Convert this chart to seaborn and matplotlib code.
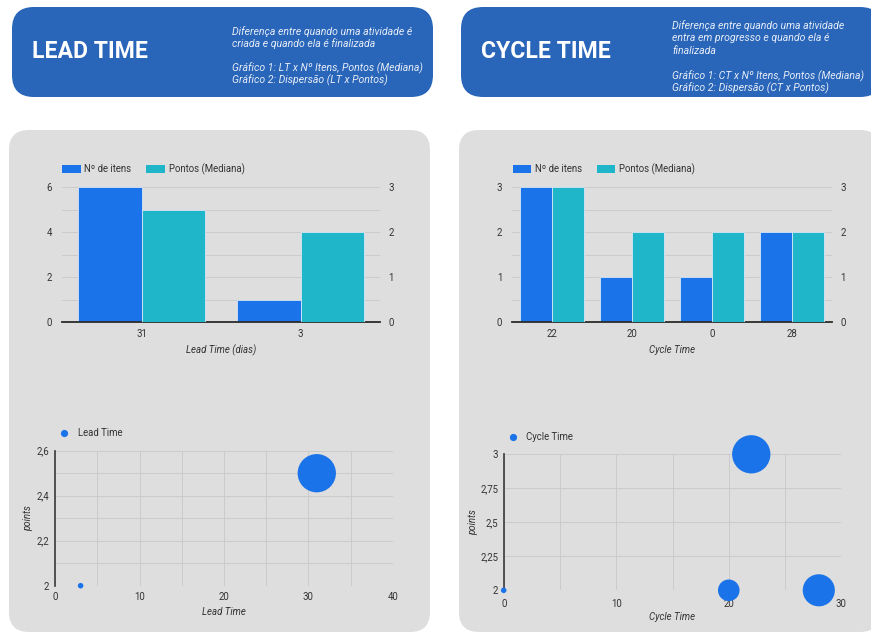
import numpy as np
import pandas as pd
import matplotlib
matplotlib.use("Agg")
import matplotlib.pyplot as plt
from matplotlib.patches import FancyBboxPatch, Patch
from matplotlib.lines import Line2D
from matplotlib.ticker import MultipleLocator, FuncFormatter
import seaborn as sns

# ---------------- data ----------------
# Lead Time — items and median points per lead time (days)
lt_categorias = ["31", "3"]
lt_itens = [6, 1]
lt_pontos_mediana = [2.5, 2]

# Cycle Time — items and median points per cycle time
ct_categorias = ["22", "20", "0", "28"]
ct_itens = [3, 1, 1, 2]
ct_pontos_mediana = [3, 2, 2, 2]

# Dispersion: time x points, bubble weight
lt_tempo = [31, 3]
lt_pontos = [2.5, 2]
lt_bolha = [186, 3]

ct_tempo = [22, 20, 0, 28]
ct_pontos = [3, 2, 2, 2]
ct_bolha = [66, 20, 0, 46]

SERIES = ["Nº de itens", "Pontos (Mediana)"]

# ---------------- style ----------------
sns.set_theme(style="white")
plt.rcParams["font.family"] = ["Roboto", "DejaVu Sans"]

AZUL = "#1a73e8"
TURQUESA = "#1fb6c9"
CAIXA = "#2965b9"
PAINEL = "#dedede"
GRADE = "#cbcbcb"
TEXTO = "#333333"
FS = 6.9

W, H = 871, 632
fig = plt.figure(figsize=(W / 100, H / 100), dpi=100)
fig.patch.set_facecolor("white")

# background layer in pixel coordinates
bg = fig.add_axes([0, 0, 1, 1])
bg.set_xlim(0, W)
bg.set_ylim(H, 0)
bg.axis("off")
PX = bg.transData


def rect(x0, y0, x1, y1):
    return [x0 / W, 1 - y1 / H, (x1 - x0) / W, (y1 - y0) / H]


def caixa(x, y, w, h, cor, r):
    bg.add_patch(FancyBboxPatch((x, y), w, h,
                                boxstyle=f"round,pad=0,rounding_size={r}",
                                fc=cor, ec="none"))


# panels
caixa(9, 130, 421, 502, PAINEL, 20)
caixa(459, 130, 421, 502, PAINEL, 20)

# headers
caixa(12, 7, 421, 90, CAIXA, 22)
caixa(461, 7, 421, 90, CAIXA, 22)

bg.text(32, 58, "LEAD TIME", color="white", fontsize=16.6, fontweight="bold",
        va="baseline", ha="left")
bg.text(481, 58, "CYCLE TIME", color="white", fontsize=16.6, fontweight="bold",
        va="baseline", ha="left")

sub_lt = ["Diferença entre quando uma atividade é",
          "criada e quando ela é finalizada",
          "",
          "Gráfico 1: LT x Nº Itens, Pontos (Mediana)",
          "Gráfico 2: Dispersão (LT x Pontos)"]
sub_ct = ["Diferença entre quando uma atividade",
          "entra em progresso e quando ela é",
          "finalizada",
          "",
          "Gráfico 1: CT x Nº Itens, Pontos (Mediana)",
          "Gráfico 2: Dispersão (CT x Pontos)"]
for i, s in enumerate(sub_lt):
    bg.text(232, 31.5 + i * 12.3, s, color="#e6edf8", fontsize=7.6,
            style="italic", va="center", ha="left")
for i, s in enumerate(sub_ct):
    bg.text(672, 25.5 + i * 12.6, s, color="#e6edf8", fontsize=7.6,
            style="italic", va="center", ha="left")


def virgula(v, p):
    return f"{v:g}".replace(".", ",")


# ---------------- bar charts ----------------
def barras(caixa_px, cats, itens, mediana, ymax_l, passo_l, ymax_r, xlabel,
           leg_xy, xlab_xy):
    ax = fig.add_axes(rect(*caixa_px))
    ax.set_facecolor("none")
    n = len(cats)
    df = pd.DataFrame({
        "cat": cats * 2,
        "serie": [SERIES[0]] * n + [SERIES[1]] * n,
        "valor": list(itens) + list(mediana),
    })
    pal = {SERIES[0]: AZUL, SERIES[1]: TURQUESA}
    kw = dict(data=df, x="cat", y="valor", hue="serie", hue_order=SERIES,
              order=cats, palette=pal, width=0.8, legend=False,
              edgecolor="#d6e6f7", linewidth=0.6, saturation=1)
    # left scale: item count; right scale: median points
    sns.barplot(ax=ax, **kw)
    ax2 = ax.twinx()
    sns.barplot(ax=ax2, **kw)
    for p in ax.containers[1]:
        p.set_visible(False)
    for p in ax2.containers[0]:
        p.set_visible(False)

    ax.set_ylim(0, ymax_l)
    ax2.set_ylim(0, ymax_r)
    ax.yaxis.set_major_locator(MultipleLocator(passo_l))
    ax.yaxis.set_minor_locator(MultipleLocator(passo_l / 2))
    ax2.yaxis.set_major_locator(MultipleLocator(1))
    ax.set_axisbelow(True)
    ax.grid(False)
    ax.grid(axis="y", which="both", color=GRADE, lw=0.7)
    ax2.grid(False)
    for a in (ax, ax2):
        for s in a.spines.values():
            s.set_visible(False)
        a.set_ylabel("")
    ax.spines["bottom"].set_visible(True)
    ax.spines["bottom"].set_color("#2b2b2b")
    ax.spines["bottom"].set_linewidth(1.3)
    ax.tick_params(axis="y", which="both", length=0, pad=7, labelsize=FS,
                   colors=TEXTO)
    ax.tick_params(axis="x", length=0, pad=5, labelsize=FS, colors=TEXTO)
    ax2.tick_params(axis="y", length=0, pad=6, labelsize=FS, colors=TEXTO)
    ax.set_xlabel(xlabel, style="italic", fontsize=FS, color=TEXTO)
    ax.xaxis.set_label_coords(*xlab_xy, transform=PX)
    ax.xaxis.label.set_va("center")
    ax2.set_xlabel("")

    handles = [Patch(fc=AZUL, ec="none"), Patch(fc=TURQUESA, ec="none")]
    fig.legend(handles, SERIES, loc="center left", bbox_to_anchor=leg_xy,
               bbox_transform=PX, ncol=2, frameon=False, fontsize=FS,
               borderpad=0, borderaxespad=0, handlelength=1.95,
               handleheight=1.0, handletextpad=0.38, columnspacing=1.55,
               labelcolor=TEXTO)
    return ax


barras((62, 187, 380, 322), lt_categorias, lt_itens, lt_pontos_mediana,
       6, 2, 3, "Lead Time (dias)", (62, 169), (221, 350))
barras((512, 187, 832, 322), ct_categorias, ct_itens, ct_pontos_mediana,
       3, 1, 3, "Cycle Time", (512.5, 169), (672, 350))


# ---------------- scatter charts ----------------
def dispersao(caixa_px, tempo, pontos, bolha, xmax, xpasso, ymin, ymax,
              ypasso_maior, ypasso_menor, nome, leg_xy, xlab_xy, ylab_xy,
              xpad, ypad):
    ax = fig.add_axes(rect(*caixa_px))
    ax.set_facecolor("none")
    df = pd.DataFrame({"tempo": tempo, "points": pontos, "bolha": bolha})
    sns.scatterplot(data=df, x="tempo", y="points", size="bolha",
                    sizes=(16, 760), size_norm=(min(bolha), max(bolha)),
                    color=AZUL, linewidth=0, alpha=1, legend=False, ax=ax,
                    clip_on=False, zorder=5)
    ax.set_xlim(0, xmax)
    ax.set_ylim(ymin, ymax)
    ax.xaxis.set_major_locator(MultipleLocator(xpasso))
    ax.xaxis.set_minor_locator(MultipleLocator(xpasso / 2))
    ax.yaxis.set_major_locator(MultipleLocator(ypasso_maior))
    ax.yaxis.set_minor_locator(MultipleLocator(ypasso_menor))
    ax.yaxis.set_major_formatter(FuncFormatter(virgula))
    ax.grid(True, which="both", color=GRADE, lw=0.7)
    for s in ax.spines.values():
        s.set_visible(False)
    ax.spines["left"].set_visible(True)
    ax.spines["left"].set_color("#3a3a3a")
    ax.spines["left"].set_linewidth(1.2)
    ax.spines["left"].set_zorder(4)
    ax.tick_params(axis="both", which="both", length=0, labelsize=FS,
                   colors=TEXTO)
    ax.tick_params(axis="x", pad=xpad)
    ax.tick_params(axis="y", pad=ypad)
    ax.set_xlabel(nome, style="italic", fontsize=FS, color=TEXTO)
    ax.xaxis.set_label_coords(*xlab_xy, transform=PX)
    ax.xaxis.label.set_va("center")
    ax.set_ylabel("points", style="italic", fontsize=FS, color=TEXTO)
    ax.yaxis.set_label_coords(*ylab_xy, transform=PX)
    ax.yaxis.label.set_va("center")

    h = [Line2D([], [], ls="none", marker="o", ms=5.2, mfc=AZUL, mec="none")]
    fig.legend(h, [nome], loc="center left", bbox_to_anchor=leg_xy,
               bbox_transform=PX, frameon=False, fontsize=FS, borderpad=0,
               borderaxespad=0, handlelength=0.95, handletextpad=0.95,
               labelcolor=TEXTO)
    return ax


dispersao((55.3, 450.7, 392.7, 585.7), lt_tempo, lt_pontos, lt_bolha,
          40, 10, 2, 2.6, 0.2, 0.1, "Lead Time", (59.8, 433),
          (224, 612), (28, 518), 4.5, 4.5)
dispersao((503.7, 454.3, 841.3, 590.3), ct_tempo, ct_pontos, ct_bolha,
          30, 10, 2, 3, 0.25, 0.25, "Cycle Time", (508.2, 437.3),
          (672, 617), (473, 522), 6, 4)

fig.savefig("out.png", dpi=100, facecolor="white")
